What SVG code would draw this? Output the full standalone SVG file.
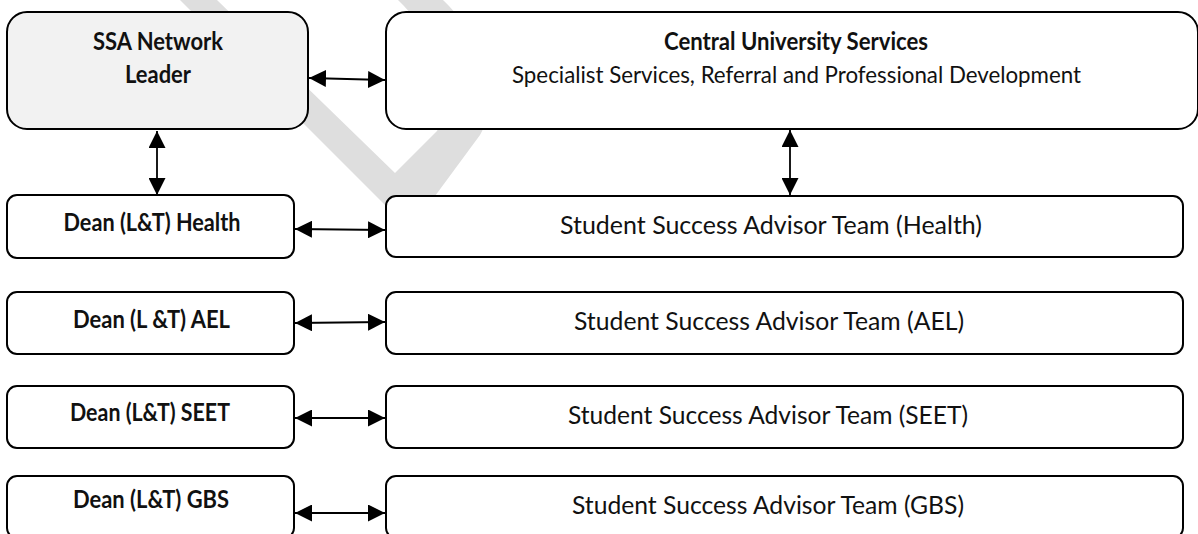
<svg xmlns="http://www.w3.org/2000/svg" width="1198" height="534" viewBox="0 0 1198 534">
  <style>
    .box { stroke: #000; stroke-width: 2; fill: #fff; }
    .lead { fill: #f2f2f2; }
    .bold { font-family: Lato, "Liberation Sans", sans-serif; font-weight: bold; fill: #111; text-anchor: middle; }
    .reg { font-family: Lato, "Liberation Sans", sans-serif; font-weight: normal; fill: #111; text-anchor: middle; }
    .link { stroke: #000; stroke-width: 1.8; fill: none; }
  </style>
  <defs>
    <marker id="head" markerUnits="userSpaceOnUse" markerWidth="18" markerHeight="17" refX="17" refY="8.5" orient="auto-start-reverse" viewBox="0 0 18 17">
      <path d="M0,0 L17,8.5 L0,17 Z" fill="#000"/>
    </marker>
  </defs>

  <!-- background watermark stroke -->
  <path id="watermark" d="M180,0 L217,0 L395,173 L437,131 C455,100 440,40 398,0 L443,0 C490,45 500,100 480,135 L410,230 Z" fill="#dedede"/>

  <g id="connectors">
    <path class="link" d="M309,78 L385,80" marker-start="url(#head)" marker-end="url(#head)"/>
    <path class="link" d="M157,131 L157,195" marker-start="url(#head)" marker-end="url(#head)"/>
    <path class="link" d="M790,130 L790,195" marker-start="url(#head)" marker-end="url(#head)"/>
    <path class="link" d="M295,229 L385,230" marker-start="url(#head)" marker-end="url(#head)"/>
    <path class="link" d="M295,323 L385,322" marker-start="url(#head)" marker-end="url(#head)"/>
    <path class="link" d="M295,418 L385,418" marker-start="url(#head)" marker-end="url(#head)"/>
    <path class="link" d="M295,513 L385,513" marker-start="url(#head)" marker-end="url(#head)"/>
  </g>

  <g id="ssa-network-leader">
    <rect class="box lead" x="7" y="12" width="301" height="117" rx="20" ry="20"/>
    <text class="bold" x="158" y="50" font-size="24" textLength="130" lengthAdjust="spacingAndGlyphs">SSA Network</text>
    <text class="bold" x="158" y="83" font-size="24" textLength="66" lengthAdjust="spacingAndGlyphs">Leader</text>
  </g>

  <g id="central-university-services">
    <rect class="box" x="386" y="12" width="812" height="117" rx="20" ry="20"/>
    <text class="bold" x="796" y="50" font-size="24" textLength="264" lengthAdjust="spacingAndGlyphs">Central University Services</text>
    <text class="reg" x="796.5" y="83" font-size="23" textLength="569" lengthAdjust="spacingAndGlyphs">Specialist Services, Referral and Professional Development</text>
  </g>

  <g id="dean-health">
    <rect class="box" x="7" y="195" width="287" height="63" rx="10" ry="10"/>
    <text class="bold" x="152" y="231" font-size="24" textLength="177" lengthAdjust="spacingAndGlyphs">Dean (L&amp;T) Health</text>
  </g>
  <g id="ssa-team-health">
    <rect class="box" x="386" y="196" width="797" height="61" rx="10" ry="10"/>
    <text class="reg" x="771" y="234" font-size="25" textLength="422" lengthAdjust="spacingAndGlyphs">Student Success Advisor Team (Health)</text>
  </g>

  <g id="dean-ael">
    <rect class="box" x="7" y="292" width="287" height="62" rx="10" ry="10"/>
    <text class="bold" x="151.5" y="328" font-size="24" textLength="157" lengthAdjust="spacingAndGlyphs">Dean (L &amp;T) AEL</text>
  </g>
  <g id="ssa-team-ael">
    <rect class="box" x="386" y="292" width="797" height="62" rx="10" ry="10"/>
    <text class="reg" x="769" y="330" font-size="25" textLength="390" lengthAdjust="spacingAndGlyphs">Student Success Advisor Team (AEL)</text>
  </g>

  <g id="dean-seet">
    <rect class="box" x="7" y="386" width="287" height="62" rx="10" ry="10"/>
    <text class="bold" x="150" y="421" font-size="24" textLength="160" lengthAdjust="spacingAndGlyphs">Dean (L&amp;T) SEET</text>
  </g>
  <g id="ssa-team-seet">
    <rect class="box" x="386" y="386" width="797" height="62" rx="10" ry="10"/>
    <text class="reg" x="768" y="424" font-size="25" textLength="400" lengthAdjust="spacingAndGlyphs">Student Success Advisor Team (SEET)</text>
  </g>

  <g id="dean-gbs">
    <rect class="box" x="7" y="476" width="287" height="62" rx="10" ry="10"/>
    <text class="bold" x="151" y="508" font-size="24" textLength="156" lengthAdjust="spacingAndGlyphs">Dean (L&amp;T) GBS</text>
  </g>
  <g id="ssa-team-gbs">
    <rect class="box" x="386" y="476" width="797" height="62" rx="10" ry="10"/>
    <text class="reg" x="768" y="514" font-size="25" textLength="392" lengthAdjust="spacingAndGlyphs">Student Success Advisor Team (GBS)</text>
  </g>
</svg>
